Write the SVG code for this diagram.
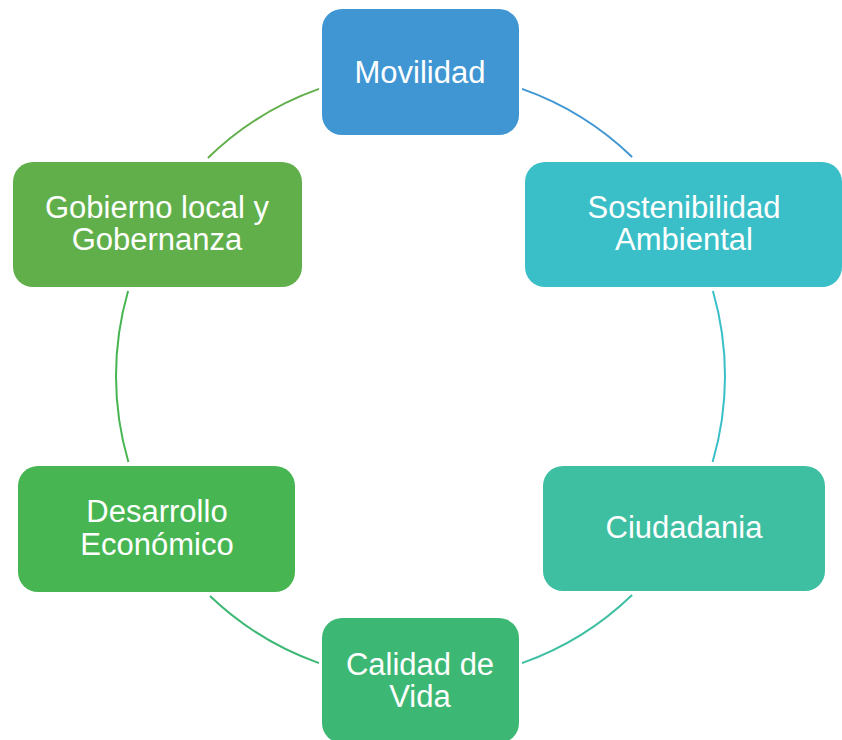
<svg xmlns="http://www.w3.org/2000/svg" width="842" height="740" viewBox="0 0 842 740">
<style>
.lbl{font-family:"Liberation Sans",Arial,sans-serif;font-size:31px;fill:#ffffff;text-anchor:middle}
.arc{fill:none;stroke-width:2}
</style>
<rect width="842" height="740" fill="#ffffff"/>
<g id="connectors">
<path class="arc" stroke="#3F96D2" d="M 522 88.9 A 304.5 304.5 0 0 1 632.1 157"/>
<path class="arc" stroke="#3ABFC8" d="M 712.9 291 A 304.5 304.5 0 0 1 712.6 462"/>
<path class="arc" stroke="#3EBFA2" d="M 632.1 595 A 304.5 304.5 0 0 1 522 663.1"/>
<path class="arc" stroke="#3DB874" d="M 319 663.1 A 304.5 304.5 0 0 1 210 596"/>
<path class="arc" stroke="#47B652" d="M 128.4 462 A 304.5 304.5 0 0 1 128.1 291"/>
<path class="arc" stroke="#61AF4B" d="M 207.9 158 A 304.5 304.5 0 0 1 319 88.9"/>
</g>
<g id="movilidad">
<rect x="322" y="9" width="197" height="126" rx="20" fill="#3F96D2"/>
<text class="lbl" x="420" y="83">Movilidad</text>
</g>
<g id="sostenibilidad">
<rect x="525" y="162" width="317" height="125" rx="20" fill="#3ABFC8"/>
<text class="lbl" x="684" y="218">Sostenibilidad</text>
<text class="lbl" x="684" y="250">Ambiental</text>
</g>
<g id="ciudadania">
<rect x="543" y="466" width="282" height="125" rx="20" fill="#3EBFA2"/>
<text class="lbl" x="684" y="538">Ciudadania</text>
</g>
<g id="calidad">
<rect x="322" y="618" width="197" height="125" rx="20" fill="#3DB874"/>
<text class="lbl" x="420" y="675">Calidad de</text>
<text class="lbl" x="420" y="707">Vida</text>
</g>
<g id="desarrollo">
<rect x="18" y="466" width="277" height="126" rx="20" fill="#47B652"/>
<text class="lbl" x="157" y="522">Desarrollo</text>
<text class="lbl" x="157" y="555">Económico</text>
</g>
<g id="gobierno">
<rect x="13" y="162" width="289" height="125" rx="20" fill="#61AF4B"/>
<text class="lbl" x="157" y="218">Gobierno local y</text>
<text class="lbl" x="157" y="250">Gobernanza</text>
</g>
</svg>
